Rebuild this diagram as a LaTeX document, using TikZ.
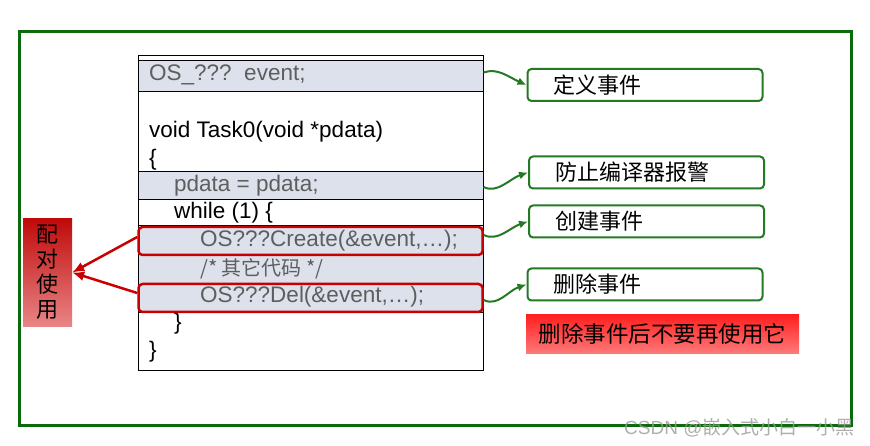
\documentclass[tikz,border=0pt]{standalone}
\usepackage{fontspec}
\setmainfont{Liberation Sans}
\newfontfamily\cjk{Noto Sans CJK SC}
\usepackage{xcolor}
\definecolor{framegreen}{HTML}{0B6B0B}
\definecolor{arrowgreen}{HTML}{237A23}
\definecolor{bandgray}{HTML}{DDE1EC}
\definecolor{codegray}{HTML}{5E5E5E}
\definecolor{markred}{HTML}{C80000}
\definecolor{pairtop}{HTML}{C00A0A}
\definecolor{pairbot}{HTML}{E98585}
\definecolor{bannertop}{HTML}{FF2020}
\definecolor{bannerbot}{HTML}{FF7878}
\definecolor{wmgray}{HTML}{9A9A9A}
\usepackage{tikz}
\usetikzlibrary{arrows.meta}

\begin{document}
\begin{tikzpicture}[x=1pt,y=-1pt,
  code/.style={anchor=base west,inner sep=0pt,font=\fontsize{22.5}{27}\selectfont},
  band/.style={draw,line width=1pt,fill=bandgray,minimum width=345pt,inner sep=0pt},
  hilite/.style={draw=markred,line width=2.5pt,rounded corners=4pt,fill=bandgray,
    minimum width=344pt,minimum height=28pt,inner sep=0pt},
  note/.style={draw=arrowgreen,line width=2pt,rounded corners=4pt,minimum height=32pt,
    inner xsep=26pt,text width=183pt,align=left,font=\cjk\fontsize{22}{26}\selectfont},
  link/.style={arrowgreen,line width=2pt,-{Latex[length=9pt,width=8pt]}},
  pairlink/.style={markred,line width=2.5pt,-{Latex[length=12pt,width=10pt]}}]
\useasboundingbox (0,0) rectangle (870,446);
% outer frame
\draw[framegreen,line width=3pt] (19,32) rectangle (851,425);
% code listing and its shaded rows
\node[draw,line width=1.2pt,minimum width=345pt,minimum height=315pt,inner sep=0pt,
  anchor=north west] (codebox) at (138,55) {};
\node[band,minimum height=31pt] (rowdecl) at (310.5,76.5) {};
\node[band,minimum height=28pt] (rowpdata) at (310.5,186) {};
\node[band,minimum height=87pt] (rowloop) at (310.5,269.5) {};
\node[hilite] (create) at (310.5,241) {};
\node[hilite] (del) at (310.5,298) {};
\node[code,codegray] (tdecl) at (149,81) {OS\_???\ \ event;};
\node[code] (ttask) at (149,138) {void Task0(void *pdata)};
\node[code] (topen) at (149,166) {\{};
\node[code,codegray] (tpdata) at (174,192) {pdata = pdata;};
\node[code] (twhile) at (174,219) {while (1) \{};
\node[code,codegray] (tcreate) at (200,247) {OS???Create(\&event,…);};
\node[code,codegray,font=\cjk\fontsize{20}{24}\selectfont] (tcomment) at (200,276) {/* 其它代码 */};
\node[code,codegray] (tdel) at (200,302) {OS???Del(\&event,…);};
\node[code] (tclose) at (174,330) {\}};
\node[code] (tend) at (149,357) {\}};
% notes on the right
\node[note] (ndef) at (645,85) {定义事件};
\node[note] (nwarn) at (646.5,172.5) {防止编译器报警};
\node[note] (ncreate) at (646.5,221.5) {创建事件};
\node[note] (ndel) at (645,284.5) {删除事件};
\draw[link] ([yshift=4pt]rowdecl.east) .. controls +(14,-5) and +(-18,-8) .. (ndef.west);
\draw[link] ([yshift=-1pt]rowpdata.east) .. controls +(14,7) and +(-18,6) .. (nwarn.west);
\draw[link] ([yshift=6pt]create.east) .. controls +(14,7) and +(-18,6) .. (ncreate.west);
\draw[link] ([yshift=-2pt]del.east) .. controls +(14,7) and +(-18,6) .. (ndel.west);
% paired calls
\node[top color=pairtop,bottom color=pairbot,minimum width=49pt,minimum height=107pt,
  inner sep=0pt,align=center,font=\cjk\fontsize{22}{25}\selectfont] (pair) at (47.5,272.5) {配\\对\\使\\用};
\draw[pairlink] ([yshift=4pt]create.west) -- (pair.east);
\draw[pairlink] ([yshift=5pt]del.west) -- (pair.east);
% warning banner
\node[top color=bannertop,bottom color=bannerbot,minimum width=273pt,minimum height=38pt,
  font=\cjk\fontsize{22.5}{27}\selectfont] (banner) at (662.5,334) {删除事件后不要再使用它};
\node[anchor=base west,inner sep=0pt,text=wmgray,opacity=.8,font=\fontsize{19}{22}\selectfont]
  (wmark) at (624,434) {CSDN @{\cjk 嵌入式小白一小黑}};
\end{tikzpicture}
\end{document}
